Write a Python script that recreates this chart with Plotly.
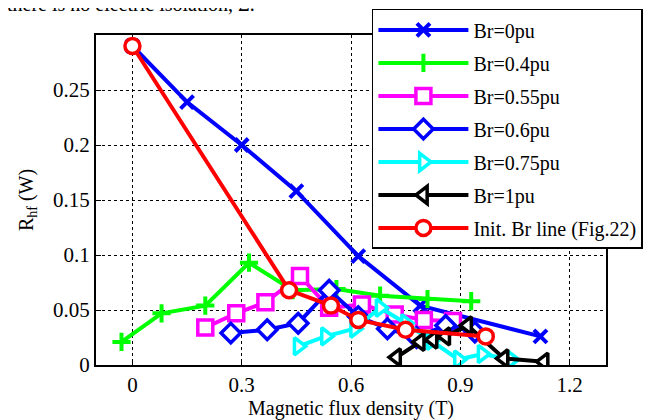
import plotly.graph_objects as go

# ---- data ----
br0_x = [0.0, 0.15, 0.30, 0.45, 0.62, 0.79, 1.12]
br0_y = [0.290, 0.239, 0.200, 0.158, 0.099, 0.054, 0.026]

br04_x = [-0.03, 0.08, 0.20, 0.32, 0.44, 0.56, 0.68, 0.81, 0.93]
br04_y = [0.021, 0.047, 0.054, 0.093, 0.068, 0.069, 0.063, 0.060, 0.058]

br055_x = [0.20, 0.285, 0.365, 0.46, 0.54, 0.63, 0.72, 0.80, 0.88]
br055_y = [0.034, 0.047, 0.057, 0.081, 0.052, 0.055, 0.046, 0.041, 0.040]

br06_x = [0.27, 0.37, 0.455, 0.54, 0.62, 0.70, 0.78, 0.86, 0.94]
br06_y = [0.029, 0.032, 0.038, 0.068, 0.044, 0.033, 0.025, 0.036, 0.030]

br075_x = [0.455, 0.53, 0.61, 0.68, 0.75, 0.82, 0.895, 0.96, 1.04]
br075_y = [0.017, 0.026, 0.033, 0.052, 0.038, 0.022, 0.005, 0.010, 0.005]

br1_x = [0.725, 0.79, 0.825, 0.86, 0.92, 1.02, 1.13]
br1_y = [0.007, 0.021, 0.023, 0.026, 0.036, 0.006, 0.003]

init_x = [0.0, 0.43, 0.545, 0.62, 0.75, 0.97]
init_y = [0.290, 0.068, 0.054, 0.041, 0.032, 0.026]

x_ticks = [0, 0.3, 0.6, 0.9, 1.2]
x_ticklabels = ["0", "0.3", "0.6", "0.9", "1.2"]
y_ticks = [0, 0.05, 0.1, 0.15, 0.2, 0.25]
y_ticklabels = ["0", "0.05", "0.1", "0.15", "0.2", "0.25"]

series = [
    ("Br=0pu", br0_x, br0_y, "#0000ff", "x-thin"),
    ("Br=0.4pu", br04_x, br04_y, "#00ff00", "cross-thin"),
    ("Br=0.55pu", br055_x, br055_y, "#ff00ff", "square"),
    ("Br=0.6pu", br06_x, br06_y, "#0000ff", "diamond"),
    ("Br=0.75pu", br075_x, br075_y, "#00ffff", "triangle-right"),
    ("Br=1pu", br1_x, br1_y, "#000000", "triangle-left"),
    ("Init. Br line (Fig.22)", init_x, init_y, "#ff0000", "circle"),
]

FONT = "'Liberation Serif', 'Times New Roman', serif"

fig = go.Figure()
for i, (name, xs, ys, col, sym) in enumerate(series):
    thin = sym.endswith("-thin")
    if thin:
        mk = dict(symbol=sym, size=13, color=col, line=dict(color=col, width=4))
    else:
        mk = dict(symbol=sym, size=15, color="white", line=dict(color=col, width=3.5))
    fig.add_trace(go.Scatter(
        x=xs, y=ys, name=name, mode="lines+markers", legendgroup=f"g{i}",
        line=dict(color=col, width=4),
        marker=mk,
    ))

grid = dict(showgrid=True, gridcolor="black", griddash="dot", gridwidth=1)

fig.update_layout(
    width=652, height=412,
    margin=dict(l=88, r=54, t=27, b=55, autoexpand=False),
    paper_bgcolor="white", plot_bgcolor="white",
    font=dict(family=FONT, size=20, color="black"),
    showlegend=True,
    legend=dict(
        x=0.541, y=1.079, xanchor="left", yanchor="top",
        bgcolor="white", bordercolor="black", borderwidth=1.5,
        font=dict(family=FONT, size=20), itemwidth=90,
        traceorder="grouped", tracegroupgap=4, maxheight=1,
    ),
    xaxis=dict(range=[-0.1, 1.3], tickvals=x_ticks, ticktext=x_ticklabels,
               showline=True, linecolor="black", linewidth=2, mirror=True,
               ticks="inside", ticklen=5, tickcolor="black", zeroline=False,
               title=dict(text="Magnetic flux density (T)", standoff=4,
                          font=dict(family=FONT, size=20)),
               tickfont=dict(family=FONT, size=21),
               **grid),
    yaxis=dict(range=[0, 0.3], tickvals=y_ticks, ticktext=y_ticklabels,
               showline=True, linecolor="black", linewidth=2, mirror=True,
               ticks="inside", ticklen=5, tickcolor="black", zeroline=False,
               title=dict(text="R<sub>hf</sub> (W)", standoff=14,
                          font=dict(family=FONT, size=20)),
               tickfont=dict(family=FONT, size=21),
               **grid),
)

fig.add_annotation(text="there is no electric isolation, Σ.", xref="paper", yref="paper",
                   x=-0.178, y=1.055, xanchor="left", yanchor="bottom",
                   showarrow=False, font=dict(family=FONT, size=20))

fig.write_html("out.html")
